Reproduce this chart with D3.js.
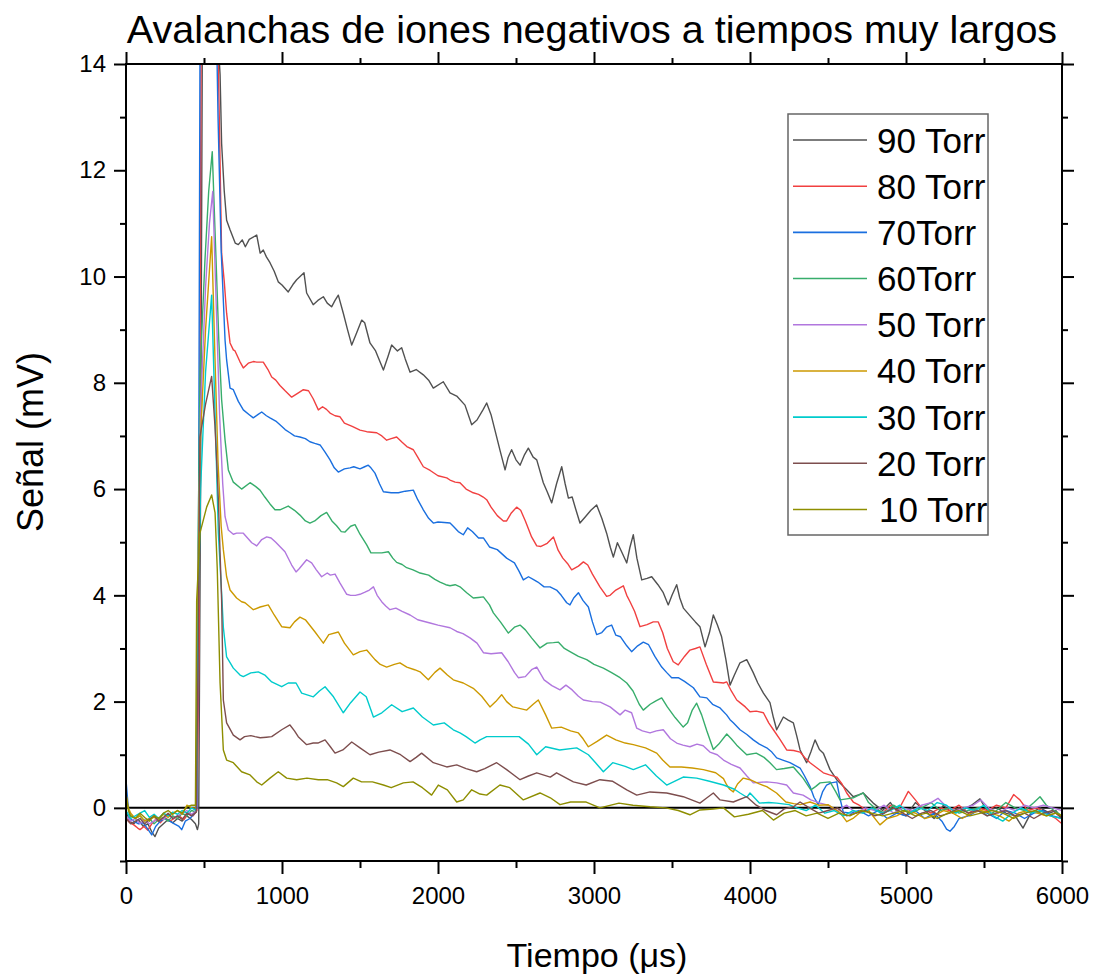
<!DOCTYPE html>
<html>
<head>
<meta charset="utf-8">
<script src="https://cdn.jsdelivr.net/npm/d3@7"></script>
<style>
  html, body { margin: 0; padding: 0; background: #fff; }
  svg { display: block; font-family: "Liberation Sans", Arial, sans-serif; }
</style>
</head>
<body>
<svg id="chart" width="1097" height="979"></svg>
<script>
// Signal traces [time µs, signal mV] for each pressure
const torr90 = [[0,-0.05],[20,-0.25],[50,-0.3],[80,-0.22],[110,-0.35],[140,-0.3],[165,-0.45],[186,-0.54],[210,-0.38],[240,-0.3],[270,-0.22],[300,-0.28],[330,-0.2],[360,-0.25],[390,-0.15],[420,-0.22],[445,-0.3],[458,-0.41],[466,-0.3],[478,6],[490,15],[580,15],[603,13.8],[613,12.5],[630,11.6],[645,11.06],[667,10.88],[700,10.63],[720,10.6],[745,10.69],[765,10.56],[790,10.7],[838,10.78],[860,10.44],[880,10.5],[900,10.37],[923,10.26],[950,10.1],[976,9.9],[1000,9.84],[1040,9.71],[1070,9.85],[1094,9.94],[1141,10.07],[1158,9.69],[1200,9.47],[1230,9.55],[1265,9.62],[1290,9.5],[1318,9.43],[1340,9.55],[1361,9.65],[1393,9.31],[1420,9.0],[1447,8.71],[1480,8.95],[1511,9.18],[1530,9.13],[1564,8.75],[1600,8.6],[1650,8.24],[1680,8.5],[1703,8.71],[1740,8.6],[1767,8.66],[1790,8.45],[1821,8.2],[1860,8.25],[1906,8.15],[1940,8.05],[1970,7.9],[2034,8.02],[2077,7.81],[2120,7.75],[2173,7.58],[2216,7.21],[2250,7.3],[2290,7.5],[2312,7.62],[2340,7.4],[2365,7.11],[2400,6.7],[2430,6.36],[2450,6.6],[2472,6.74],[2500,6.55],[2526,6.45],[2555,6.65],[2579,6.77],[2610,6.6],[2633,6.55],[2675,6.12],[2700,5.95],[2729,5.74],[2760,6.1],[2793,6.42],[2815,6.1],[2836,5.83],[2860,5.85],[2885,5.6],[2910,5.36],[2945,5.48],[2980,5.6],[3017,5.7],[3050,5.45],[3081,5.17],[3105,4.9],[3124,4.72],[3150,4.99],[3180,4.8],[3210,4.61],[3230,4.9],[3252,5.14],[3275,4.7],[3306,4.29],[3340,4.32],[3370,4.35],[3410,4.2],[3444,4.05],[3476,3.82],[3500,4.0],[3530,4.2],[3550,3.95],[3573,3.76],[3620,3.6],[3650,3.5],[3679,3.41],[3712,3.03],[3740,3.3],[3765,3.63],[3790,3.45],[3818,3.22],[3845,2.8],[3872,2.31],[3900,2.5],[3936,2.73],[3979,2.79],[4020,2.55],[4050,2.35],[4086,2.16],[4128,1.98],[4150,1.7],[4171,1.47],[4214,1.71],[4245,1.65],[4278,1.6],[4300,1.35],[4321,1.09],[4363,0.85],[4390,1.05],[4417,1.28],[4445,1.1],[4470,1.03],[4513,0.72],[4556,0.53],[4620,0.34],[4662,0.21],[4700,0.25],[4726,0.28],[4790,0.09],[4850,-0.05],[4900,0.1],[4950,-0.1],[5000,-0.15],[5060,0.1],[5120,-0.05],[5180,-0.2],[5240,0.05],[5300,-0.1],[5360,-0.05],[5420,0.05],[5474,0.17],[5520,-0.05],[5580,0.0],[5640,-0.1],[5700,-0.15],[5750,-0.38],[5800,-0.1],[5860,0.0],[5920,-0.1],[5960,-0.05],[6000,-0.2]];

const torr80 = [[0,-0.2],[25,-0.28],[50,-0.32],[75,-0.38],[90,-0.41],[115,-0.35],[140,-0.42],[165,-0.3],[190,-0.22],[220,-0.28],[250,-0.18],[280,-0.25],[310,-0.2],[340,-0.15],[370,-0.22],[400,-0.1],[430,-0.15],[455,-0.05],[468,3],[482,15],[585,15],[598,13],[613,10.44],[630,9.9],[645,9.31],[667,8.75],[688,8.62],[699,8.6],[730,8.4],[752,8.28],[784,8.37],[816,8.4],[838,8.39],[880,8.39],[910,8.25],[934,8.11],[960,8.05],[987,7.95],[1020,7.85],[1062,7.73],[1100,7.8],[1137,7.87],[1170,7.85],[1200,7.7],[1233,7.49],[1260,7.55],[1285,7.5],[1308,7.43],[1340,7.38],[1372,7.36],[1400,7.24],[1450,7.18],[1500,7.11],[1543,7.08],[1607,7.06],[1640,7.0],[1671,6.92],[1700,6.95],[1735,6.98],[1770,6.88],[1800,6.8],[1842,6.74],[1870,6.6],[1906,6.42],[1950,6.35],[2000,6.25],[2056,6.21],[2077,6.17],[2110,6.13],[2141,6.12],[2180,6.0],[2226,5.93],[2260,5.9],[2290,5.85],[2312,5.8],[2340,5.66],[2380,5.5],[2419,5.4],[2440,5.4],[2470,5.55],[2504,5.66],[2530,5.6],[2560,5.4],[2600,5.1],[2633,4.93],[2660,4.92],[2700,4.98],[2740,5.1],[2770,4.85],[2800,4.7],[2830,4.6],[2857,4.48],[2900,4.55],[2932,4.63],[2960,4.57],[2990,4.4],[3038,4.16],[3081,3.98],[3103,4.0],[3140,4.1],[3188,4.18],[3210,4.0],[3231,3.88],[3260,3.7],[3295,3.41],[3340,3.45],[3380,3.5],[3412,3.5],[3440,3.3],[3470,3.0],[3508,2.75],[3540,2.69],[3580,2.85],[3615,2.97],[3650,3.0],[3679,3.03],[3720,2.7],[3765,2.37],[3800,2.36],[3830,2.35],[3851,2.37],[3880,2.2],[3915,2.03],[3936,1.98],[3970,1.9],[4000,1.81],[4040,1.82],[4086,1.79],[4120,1.6],[4150,1.47],[4190,1.3],[4235,1.09],[4280,1.08],[4321,1.05],[4350,0.95],[4385,0.85],[4430,0.75],[4470,0.66],[4510,0.62],[4556,0.58],[4590,0.45],[4620,0.28],[4662,0.11],[4700,0.05],[4750,-0.05],[4800,0.0],[4850,-0.1],[4900,0.05],[4950,-0.05],[5015,0.31],[5060,0.15],[5100,0.0],[5160,-0.1],[5220,0.0],[5280,-0.05],[5340,0.05],[5400,-0.1],[5460,0.0],[5520,-0.05],[5580,0.05],[5640,0.0],[5690,0.25],[5730,0.15],[5780,-0.05],[5840,0.0],[5900,-0.1],[5960,-0.2],[6000,-0.3]];

const torr70 = [[0,0.53],[12,0.1],[25,-0.2],[50,-0.25],[80,-0.3],[110,-0.28],[140,-0.4],[165,-0.51],[190,-0.35],[220,-0.25],[250,-0.2],[280,-0.25],[310,-0.3],[340,-0.35],[357,-0.41],[380,-0.25],[410,-0.2],[440,-0.1],[455,0.0],[465,5],[475,15],[578,15],[590,13],[610,10.5],[635,8.8],[645,8.43],[667,7.9],[688,7.87],[720,7.65],[752,7.49],[790,7.4],[816,7.34],[845,7.4],[870,7.45],[900,7.38],[923,7.34],[960,7.28],[987,7.21],[1020,7.12],[1051,7.06],[1080,7.0],[1115,6.98],[1150,6.95],[1179,6.89],[1210,6.86],[1244,6.83],[1275,6.7],[1308,6.55],[1335,6.4],[1361,6.32],[1400,6.38],[1436,6.4],[1460,6.42],[1500,6.38],[1530,6.42],[1553,6.45],[1570,6.4],[1596,6.3],[1625,6.1],[1650,5.95],[1700,5.93],[1746,5.93],[1790,5.96],[1842,5.98],[1870,5.8],[1906,5.61],[1940,5.45],[1970,5.36],[2000,5.38],[2040,5.37],[2077,5.36],[2098,5.3],[2130,5.2],[2162,5.14],[2190,5.27],[2220,5.2],[2260,5.08],[2291,5.08],[2330,4.91],[2380,4.86],[2440,4.7],[2490,4.61],[2520,4.45],[2547,4.29],[2580,4.35],[2610,4.3],[2640,4.25],[2680,4.16],[2718,4.16],[2760,4.1],[2790,4.0],[2825,3.86],[2846,3.82],[2870,3.95],[2900,4.05],[2930,3.9],[2964,3.78],[2990,3.5],[3017,3.26],[3050,3.3],[3080,3.4],[3113,3.44],[3140,3.25],[3170,3.22],[3210,3.05],[3241,2.94],[3280,3.05],[3316,3.12],[3350,3.07],[3390,2.85],[3434,2.65],[3465,2.55],[3498,2.45],[3540,2.45],[3580,2.38],[3637,2.26],[3679,2.09],[3723,2.07],[3760,1.95],[3808,1.88],[3850,1.75],[3872,1.66],[3893,1.6],[3936,1.47],[3980,1.38],[4021,1.28],[4060,1.2],[4107,1.13],[4140,1.05],[4171,0.94],[4210,0.9],[4256,0.85],[4321,0.75],[4350,0.6],[4385,0.4],[4410,0.2],[4438,0.06],[4465,0.3],[4491,0.43],[4520,0.47],[4556,0.49],[4575,0.2],[4598,-0.08],[4650,-0.1],[4700,-0.05],[4760,-0.15],[4820,-0.05],[4880,-0.2],[4940,-0.1],[5000,-0.15],[5060,-0.05],[5120,-0.2],[5180,-0.1],[5230,-0.25],[5260,-0.4],[5282,-0.44],[5310,-0.35],[5340,-0.2],[5400,-0.15],[5460,-0.05],[5520,-0.1],[5580,-0.2],[5640,-0.05],[5700,-0.1],[5760,-0.2],[5820,-0.1],[5880,-0.05],[5940,-0.15],[6000,-0.2]];

const torr60 = [[0,-0.2],[30,-0.15],[60,-0.2],[90,-0.15],[120,-0.25],[150,-0.2],[180,-0.3],[210,-0.22],[240,-0.18],[270,-0.25],[300,-0.15],[330,-0.2],[360,-0.1],[390,-0.15],[420,-0.05],[450,-0.08],[462,5],[475,8.2],[506,10.3],[530,11.6],[553,12.35],[575,10.5],[595,8.8],[613,7.68],[635,6.92],[656,6.36],[688,6.13],[741,6.0],[795,6.12],[830,6.05],[859,5.98],[890,5.85],[923,5.72],[955,5.61],[987,5.61],[1040,5.68],[1080,5.6],[1115,5.51],[1150,5.4],[1179,5.36],[1210,5.4],[1250,5.5],[1286,5.56],[1320,5.4],[1350,5.31],[1380,5.2],[1404,5.19],[1440,5.3],[1468,5.33],[1500,5.15],[1543,4.95],[1570,4.8],[1607,4.8],[1640,4.8],[1682,4.82],[1710,4.7],[1735,4.62],[1770,4.58],[1799,4.52],[1840,4.48],[1885,4.42],[1940,4.38],[1980,4.3],[2013,4.25],[2050,4.2],[2077,4.18],[2110,4.2],[2141,4.16],[2184,4.05],[2226,3.95],[2260,3.96],[2291,3.97],[2330,3.82],[2355,3.67],[2400,3.5],[2451,3.29],[2490,3.4],[2526,3.44],[2560,3.35],[2600,3.2],[2654,3.01],[2700,3.1],[2740,3.11],[2771,3.12],[2810,3.0],[2846,2.94],[2900,2.85],[2953,2.79],[3000,2.7],[3060,2.63],[3110,2.55],[3167,2.45],[3210,2.35],[3250,2.2],[3290,1.95],[3316,1.84],[3360,1.95],[3400,2.02],[3434,2.07],[3470,1.9],[3520,1.7],[3572,1.52],[3600,1.6],[3630,1.84],[3658,1.97],[3690,1.75],[3723,1.45],[3765,1.1],[3800,1.2],[3851,1.39],[3880,1.3],[3915,1.18],[3979,1.0],[4040,1.03],[4090,0.95],[4128,0.85],[4170,0.72],[4220,0.74],[4278,0.77],[4310,0.66],[4340,0.56],[4390,0.34],[4420,0.4],[4449,0.47],[4513,0.49],[4550,0.3],[4577,0.15],[4620,0.17],[4662,0.19],[4726,0.28],[4760,0.1],[4800,0.0],[4860,-0.1],[4920,0.05],[4980,-0.05],[5040,-0.1],[5100,0.0],[5160,0.1],[5220,-0.05],[5280,0.0],[5340,-0.1],[5400,-0.05],[5460,0.0],[5520,-0.15],[5580,-0.05],[5640,0.1],[5700,0.0],[5760,-0.05],[5820,0.1],[5859,0.21],[5900,0.05],[5950,-0.05],[6000,-0.15]];

const torr50 = [[0,-0.15],[30,-0.25],[60,-0.2],[90,-0.3],[120,-0.22],[150,-0.3],[180,-0.25],[210,-0.18],[240,-0.22],[270,-0.12],[300,-0.2],[330,-0.15],[360,-0.1],[390,-0.05],[420,-0.12],[452,-0.05],[463,4.5],[478,7.5],[510,9.8],[535,11.0],[556,11.6],[578,9.5],[600,7.4],[620,6.1],[635,5.48],[656,5.23],[688,5.15],[709,5.17],[752,5.17],[806,4.99],[838,4.93],[870,5.05],[902,5.1],[930,5.08],[960,5.0],[1019,4.82],[1062,4.57],[1090,4.44],[1110,4.5],[1158,4.67],[1190,4.61],[1220,4.48],[1254,4.35],[1290,4.42],[1310,4.38],[1340,4.4],[1372,4.23],[1415,4.02],[1440,4.0],[1470,4.0],[1500,4.02],[1532,4.06],[1560,4.1],[1586,4.16],[1610,4.0],[1639,3.88],[1665,3.8],[1692,3.73],[1730,3.76],[1770,3.7],[1821,3.63],[1870,3.54],[1949,3.48],[2000,3.44],[2077,3.39],[2120,3.32],[2160,3.28],[2205,3.2],[2250,3.1],[2291,2.92],[2340,2.9],[2408,2.92],[2450,2.75],[2490,2.55],[2515,2.45],[2560,2.47],[2600,2.6],[2633,2.65],[2680,2.41],[2730,2.3],[2782,2.22],[2820,2.31],[2860,2.22],[2900,2.1],[2932,2.03],[2990,2.0],[3040,1.99],[3103,1.9],[3167,1.75],[3200,1.84],[3241,1.79],[3274,1.5],[3310,1.45],[3359,1.41],[3400,1.45],[3444,1.47],[3490,1.3],[3530,1.22],[3570,1.18],[3615,1.15],[3660,1.2],[3700,1.17],[3743,1.05],[3790,1.0],[3830,0.9],[3880,0.82],[3936,0.75],[3980,0.6],[4021,0.47],[4060,0.48],[4107,0.49],[4171,0.47],[4235,0.43],[4278,0.28],[4340,0.24],[4390,0.15],[4450,0.09],[4500,0.05],[4560,-0.05],[4620,0.05],[4680,-0.1],[4740,0.0],[4800,-0.05],[4860,0.05],[4920,-0.1],[4980,0.0],[5040,-0.05],[5100,0.05],[5160,0.1],[5205,0.18],[5250,0.05],[5310,-0.05],[5370,0.0],[5430,0.05],[5480,0.15],[5530,0.0],[5590,-0.1],[5650,0.0],[5700,-0.05],[5760,0.05],[5820,0.0],[5880,0.05],[5940,0.0],[6000,-0.05]];

const torr40 = [[0,0.28],[15,0.0],[30,-0.1],[60,-0.2],[90,-0.15],[120,-0.25],[150,-0.2],[180,-0.18],[210,-0.22],[240,-0.12],[270,-0.18],[300,-0.1],[330,-0.05],[360,-0.12],[390,0.05],[420,0.0],[448,0.0],[460,4.0],[475,6.8],[510,9.0],[549,10.75],[570,8.5],[590,6.5],[610,5.3],[624,4.86],[645,4.35],[667,4.1],[709,3.95],[741,3.88],[763,3.86],[816,3.73],[860,3.78],[912,3.82],[950,3.63],[998,3.41],[1051,3.39],[1080,3.5],[1115,3.59],[1150,3.54],[1212,3.31],[1240,3.2],[1265,3.1],[1300,3.26],[1361,3.31],[1400,3.1],[1457,2.88],[1500,2.94],[1543,2.97],[1596,2.79],[1630,2.7],[1671,2.65],[1720,2.7],[1756,2.73],[1800,2.65],[1850,2.6],[1885,2.56],[1938,2.41],[1980,2.55],[2013,2.63],[2060,2.5],[2098,2.41],[2162,2.35],[2226,2.25],[2280,2.1],[2333,1.9],[2370,2.0],[2408,2.13],[2440,2.0],[2480,1.9],[2569,1.84],[2610,1.95],[2643,2.03],[2690,1.75],[2729,1.5],[2790,1.52],[2850,1.45],[2900,1.41],[2930,1.3],[2964,1.15],[3020,1.25],[3081,1.37],[3140,1.28],[3200,1.22],[3252,1.19],[3330,1.13],[3402,1.03],[3440,0.9],[3487,0.77],[3560,0.77],[3630,0.75],[3701,0.72],[3780,0.66],[3830,0.55],[3851,0.43],[3870,0.35],[3893,0.3],[3920,0.45],[3957,0.56],[4000,0.53],[4060,0.45],[4107,0.4],[4170,0.28],[4230,0.11],[4280,0.08],[4321,0.06],[4385,0.11],[4440,0.05],[4500,0.06],[4540,-0.02],[4577,-0.09],[4620,-0.26],[4660,-0.2],[4700,-0.1],[4760,-0.05],[4833,-0.32],[4880,-0.2],[4940,-0.15],[5000,-0.05],[5060,-0.1],[5120,-0.2],[5180,-0.15],[5240,-0.05],[5300,-0.1],[5360,-0.2],[5420,-0.1],[5480,-0.05],[5540,-0.1],[5600,-0.15],[5660,-0.25],[5720,-0.1],[5780,-0.05],[5840,-0.1],[5900,-0.15],[5960,-0.1],[6000,-0.15]];

const torr30 = [[0,-0.05],[30,-0.2],[60,-0.15],[90,-0.1],[120,-0.05],[150,-0.18],[180,-0.12],[210,-0.2],[240,-0.1],[270,-0.15],[300,-0.08],[330,-0.12],[360,-0.05],[390,-0.1],[420,0.0],[450,-0.05],[462,3.5],[478,6.0],[510,8.2],[549,9.65],[570,7.5],[592,5.17],[613,4.04],[624,3.4],[645,2.84],[688,2.63],[731,2.5],[752,2.47],[800,2.54],[848,2.56],[890,2.5],[934,2.37],[998,2.28],[1040,2.35],[1090,2.35],[1126,2.16],[1201,2.09],[1240,2.2],[1276,2.28],[1330,2.09],[1393,1.79],[1440,1.98],[1500,2.18],[1540,2.09],[1586,1.71],[1640,1.79],[1703,1.94],[1770,1.81],[1842,1.88],[1900,1.71],[1970,1.56],[2040,1.6],[2098,1.47],[2141,1.41],[2180,1.34],[2237,1.22],[2270,1.28],[2312,1.34],[2400,1.34],[2520,1.34],[2580,1.2],[2633,1.0],[2690,1.15],[2780,1.09],[2889,1.13],[2964,1.0],[3010,0.85],[3060,0.68],[3120,0.85],[3200,0.78],[3252,0.72],[3330,0.81],[3400,0.6],[3466,0.43],[3572,0.58],[3658,0.56],[3740,0.5],[3830,0.43],[3900,0.35],[3936,0.28],[3980,0.2],[4000,0.28],[4060,0.09],[4120,0.1],[4171,0.09],[4250,0.06],[4300,0.0],[4360,-0.05],[4420,0.05],[4480,-0.1],[4540,-0.05],[4600,-0.15],[4660,-0.05],[4720,-0.1],[4780,0.0],[4840,-0.1],[4900,-0.05],[4960,0.05],[5020,-0.1],[5080,0.0],[5140,-0.05],[5200,0.1],[5260,0.05],[5320,-0.1],[5380,0.0],[5440,-0.05],[5500,0.05],[5560,-0.15],[5620,-0.25],[5680,-0.1],[5740,0.0],[5800,-0.1],[5860,-0.05],[5920,-0.15],[6000,-0.2]];

const torr20 = [[0,-0.2],[30,-0.3],[60,-0.25],[90,-0.2],[120,-0.3],[150,-0.22],[180,-0.15],[210,-0.25],[240,-0.18],[270,-0.1],[300,-0.2],[330,-0.15],[360,-0.22],[390,-0.1],[420,-0.15],[450,-0.08],[463,3.0],[474,6.98],[510,7.6],[549,8.12],[570,7.2],[581,6.55],[592,5.8],[603,4.8],[613,3.91],[624,2.03],[645,1.6],[688,1.37],[731,1.28],[760,1.34],[800,1.36],[827,1.34],[860,1.32],[900,1.33],[934,1.34],[998,1.47],[1051,1.56],[1080,1.45],[1104,1.34],[1158,1.19],[1200,1.22],[1230,1.22],[1276,1.28],[1310,1.15],[1340,1.03],[1390,1.09],[1447,1.24],[1500,1.13],[1564,1.0],[1620,1.05],[1692,1.09],[1760,1.0],[1821,0.87],[1860,0.95],[1895,1.03],[1970,0.85],[2056,0.77],[2120,0.81],[2180,0.74],[2248,0.68],[2300,0.74],[2376,0.85],[2440,0.72],[2526,0.53],[2580,0.6],[2633,0.66],[2720,0.58],[2760,0.66],[2868,0.49],[2950,0.43],[3038,0.53],[3120,0.5],[3210,0.34],[3274,0.24],[3359,0.3],[3466,0.28],[3572,0.21],[3679,0.09],[3720,0.18],[3765,0.28],[3808,0.15],[3893,0.11],[3979,0.21],[4040,0.05],[4100,-0.05],[4171,-0.13],[4220,-0.02],[4278,0.02],[4321,0.11],[4380,0.0],[4440,-0.1],[4500,-0.05],[4560,0.0],[4620,-0.15],[4680,-0.1],[4740,-0.05],[4800,-0.15],[4860,-0.1],[4920,0.0],[4980,-0.1],[5040,-0.2],[5100,-0.1],[5160,-0.05],[5220,-0.15],[5280,-0.1],[5340,0.0],[5400,-0.1],[5460,-0.05],[5520,-0.15],[5580,-0.1],[5640,-0.05],[5700,-0.15],[5760,-0.1],[5820,-0.2],[5880,-0.1],[5940,-0.05],[6000,-0.2]];

const torr10 = [[0,0.25],[15,-0.05],[30,-0.15],[60,-0.2],[90,-0.1],[120,-0.18],[150,-0.25],[180,-0.15],[210,-0.2],[240,-0.1],[270,-0.05],[300,-0.12],[330,-0.05],[360,-0.1],[390,0.02],[420,0.05],[445,0.05],[453,3.9],[474,5.17],[517,5.66],[549,5.89],[571,5.55],[585,4.5],[603,2.35],[624,1.09],[645,0.9],[688,0.85],[741,0.68],[795,0.62],[838,0.49],[870,0.43],[923,0.56],[976,0.68],[1030,0.56],[1094,0.53],[1160,0.56],[1233,0.53],[1290,0.53],[1350,0.47],[1393,0.4],[1457,0.56],[1510,0.49],[1580,0.49],[1650,0.43],[1700,0.38],[1778,0.47],[1840,0.49],[1900,0.38],[1959,0.24],[2002,0.43],[2060,0.34],[2120,0.11],[2162,0.15],[2216,0.34],[2269,0.26],[2312,0.24],[2397,0.43],[2460,0.38],[2547,0.15],[2654,0.28],[2720,0.19],[2782,0.06],[2850,0.11],[2950,0.11],[3038,0.0],[3160,0.09],[3250,0.05],[3359,0.02],[3460,0.0],[3540,-0.05],[3615,-0.13],[3679,-0.04],[3765,-0.02],[3830,0.0],[3900,-0.17],[3990,-0.12],[4080,-0.05],[4150,-0.23],[4220,-0.1],[4290,-0.05],[4360,-0.15],[4430,-0.1],[4500,-0.2],[4570,-0.1],[4640,-0.15],[4710,-0.05],[4780,-0.1],[4850,-0.15],[4920,-0.1],[4990,-0.05],[5060,-0.15],[5130,-0.1],[5200,-0.2],[5270,-0.1],[5340,-0.05],[5410,-0.15],[5480,-0.1],[5550,-0.05],[5620,-0.1],[5690,-0.2],[5760,-0.1],[5830,-0.05],[5900,-0.15],[5960,-0.1],[6000,-0.15]];

const seriesNames = ["90 Torr", "80 Torr", "70Torr", "60Torr", "50 Torr", "40 Torr", "30 Torr", "20 Torr", "10 Torr"];
const seriesData = [torr90, torr80, torr70, torr60, torr50, torr40, torr30, torr20, torr10];
const seriesColors = ["#515151", "#F14040", "#1A6FDF", "#37AD6B", "#B177DE", "#CC9900", "#00CBCC", "#7D4E4E", "#8E8E00"];

const xMajorTicks = [0, 1000, 2000, 3000, 4000, 5000, 6000];
const xMinorTicks = [500, 1500, 2500, 3500, 4500, 5500];
const yMajorTicks = [0, 2, 4, 6, 8, 10, 12, 14];
const yMinorTicks = [-1, 1, 3, 5, 7, 9, 11, 13];

const titleText = "Avalanchas de iones negativos a tiempos muy largos";
const xTitle = "Tiempo (\u03BCs)";
const yTitle = "Se\u00F1al (mV)";

// Layout
const svg = d3.select("#chart");
const plot = { left: 126, right: 1062, top: 64, bottom: 861 };
const x = d3.scaleLinear().domain([0, 6000]).range([plot.left, plot.right]);
const y = d3.scaleLinear().domain([-1, 14]).range([plot.bottom, plot.top]);

svg.append("defs").append("clipPath").attr("id", "plotClip")
  .append("rect")
  .attr("x", plot.left).attr("y", plot.top)
  .attr("width", plot.right - plot.left).attr("height", plot.bottom - plot.top);

// Axes with outward ticks on all four sides
function styleAxis(g) {
  g.select(".domain").remove();
  g.selectAll(".tick line").attr("stroke", "#000").attr("stroke-width", 2);
  g.selectAll(".tick text").attr("fill", "#000").attr("font-size", 24)
    .attr("font-family", "Liberation Sans, Arial, sans-serif");
}

svg.append("g").attr("transform", `translate(0,${plot.bottom})`)
  .call(d3.axisBottom(x).tickValues(xMajorTicks).tickSize(13).tickPadding(13).tickFormat(d3.format("d")))
  .call(styleAxis);
svg.append("g").attr("transform", `translate(0,${plot.bottom})`)
  .call(d3.axisBottom(x).tickValues(xMinorTicks).tickSize(7).tickFormat(""))
  .call(styleAxis);
svg.append("g").attr("transform", `translate(0,${plot.top})`)
  .call(d3.axisTop(x).tickValues(xMajorTicks).tickSize(12).tickFormat(""))
  .call(styleAxis);
svg.append("g").attr("transform", `translate(0,${plot.top})`)
  .call(d3.axisTop(x).tickValues(xMinorTicks).tickSize(6).tickFormat(""))
  .call(styleAxis);

svg.append("g").attr("transform", `translate(${plot.left},0)`)
  .call(d3.axisLeft(y).tickValues(yMajorTicks).tickSize(12).tickPadding(8).tickFormat(d3.format("d")))
  .call(styleAxis);
svg.append("g").attr("transform", `translate(${plot.left},0)`)
  .call(d3.axisLeft(y).tickValues(yMinorTicks).tickSize(6).tickFormat(""))
  .call(styleAxis);
svg.append("g").attr("transform", `translate(${plot.right},0)`)
  .call(d3.axisRight(y).tickValues(yMajorTicks).tickSize(12).tickFormat(""))
  .call(styleAxis);
svg.append("g").attr("transform", `translate(${plot.right},0)`)
  .call(d3.axisRight(y).tickValues(yMinorTicks).tickSize(6).tickFormat(""))
  .call(styleAxis);

// Zero reference line
svg.append("line")
  .attr("x1", plot.left).attr("x2", plot.right)
  .attr("y1", y(0)).attr("y2", y(0))
  .attr("stroke", "#000").attr("stroke-width", 2);

// Traces
const line = d3.line().x(d => x(d[0])).y(d => y(d[1]));
const traces = svg.append("g").attr("clip-path", "url(#plotClip)");
seriesData.forEach((data, i) => {
  traces.append("path")
    .datum(data)
    .attr("d", line)
    .attr("fill", "none")
    .attr("stroke", seriesColors[i])
    .attr("stroke-width", 1.4)
    .attr("stroke-linejoin", "round");
});

// Frame
svg.append("rect")
  .attr("x", plot.left).attr("y", plot.top)
  .attr("width", plot.right - plot.left).attr("height", plot.bottom - plot.top)
  .attr("fill", "none").attr("stroke", "#000").attr("stroke-width", 2);

// Titles
svg.append("text")
  .attr("x", 592).attr("y", 43)
  .attr("text-anchor", "middle")
  .attr("font-size", 39.5)
  .attr("fill", "#000")
  .text(titleText);

svg.append("text")
  .attr("x", 597).attr("y", 967)
  .attr("text-anchor", "middle")
  .attr("font-size", 34)
  .attr("fill", "#000")
  .text(xTitle);

svg.append("text")
  .attr("transform", "translate(43,442) rotate(-90)")
  .attr("text-anchor", "middle")
  .attr("font-size", 36)
  .attr("fill", "#000")
  .text(yTitle);

// Legend
const legend = svg.append("g");
legend.append("rect")
  .attr("x", 788).attr("y", 114)
  .attr("width", 200).attr("height", 421)
  .attr("fill", "#fff").attr("stroke", "#666").attr("stroke-width", 1.5);
const legendRow = d3.scaleLinear().domain([0, 8]).range([140, 509.5]);
seriesNames.forEach((name, i) => {
  const yy = legendRow(i);
  legend.append("line")
    .attr("x1", 793).attr("x2", 867)
    .attr("y1", yy).attr("y2", yy)
    .attr("stroke", seriesColors[i]).attr("stroke-width", 1.6);
  legend.append("text")
    .attr("x", i === 8 ? 879 : 877).attr("y", yy + 12.5)
    .attr("font-size", 35)
    .attr("fill", "#000")
    .text(name);
});
</script>
</body>
</html>
